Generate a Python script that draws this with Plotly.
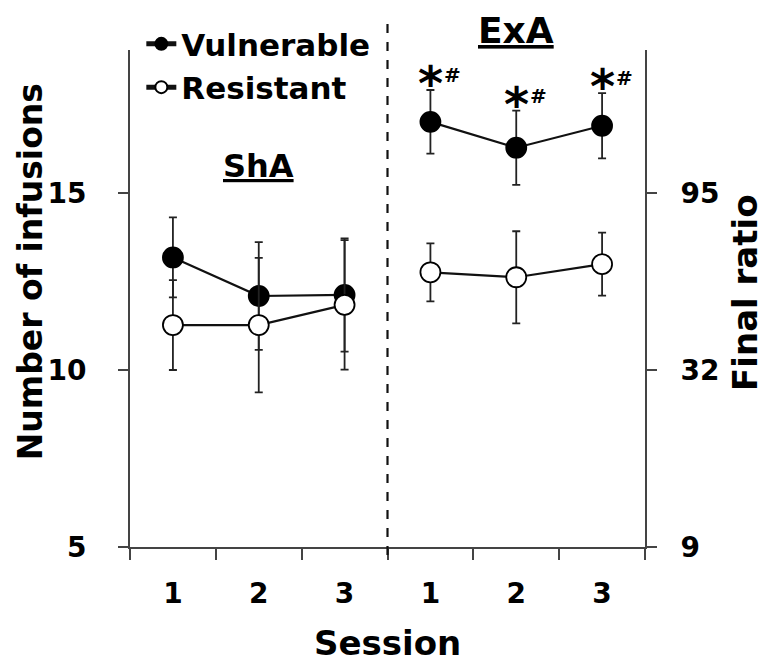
import plotly.graph_objects as go

# ---- data ----
session_labels = ["1", "2", "3"]
phases = ["ShA", "ExA"]

vul_sha = [13.18, 12.09, 12.12]
vul_sha_err = [1.13, 1.52, 1.60]
res_sha = [11.27, 11.27, 11.84]
res_sha_err = [1.27, 1.90, 1.83]

vul_exa = [17.01, 16.28, 16.90]
vul_exa_err = [0.90, 1.05, 0.92]
res_exa = [12.76, 12.62, 12.99]
res_exa_err = [0.82, 1.30, 0.89]

left_ticks = [5, 10, 15]
right_ticktext = ["9", "32", "95"]
sig_label_star = "*"
sig_label_hash = "#"

FONT = "DejaVu Sans"
n = len(session_labels)
x_sha = list(range(1, n + 1))
x_exa = list(range(n + 1, 2 * n + 1))
all_labels = session_labels + session_labels

fig = go.Figure()

def add(xs, ys, errs, filled, name, show):
    fig.add_trace(go.Scatter(
        x=xs, y=ys, mode="lines+markers", name=name, legendgroup=name,
        showlegend=show,
        line=dict(color="#111111", width=2.2),
        marker=dict(size=20, color="#000000" if filled else "#ffffff",
                    line=dict(color="#000000", width=1.8), symbol="circle"),
        error_y=dict(type="data", array=errs, visible=True, color="#222222",
                     thickness=1.8, width=4),
    ))

add(x_sha, vul_sha, vul_sha_err, True, "Vulnerable", True)
add(x_exa, vul_exa, vul_exa_err, True, "Vulnerable", False)
add(x_sha, res_sha, res_sha_err, False, "Resistant", True)
add(x_exa, res_exa, res_exa_err, False, "Resistant", False)

# significance marks above vulnerable ExA points
for xi, v, e in zip(x_exa, vul_exa, vul_exa_err):
    fig.add_annotation(x=xi, y=v + e, text="<b>" + sig_label_star + "</b>", showarrow=False,
                       font=dict(family=FONT, size=48, color="#000"),
                       yanchor="middle", yshift=7)
    fig.add_annotation(x=xi, y=v + e, text="<b>" + sig_label_hash + "</b>", showarrow=False,
                       font=dict(family=FONT, size=20, color="#000"),
                       yanchor="middle", xshift=22, yshift=15)

# divider between phases
fig.add_shape(type="line", xref="x", yref="paper",
              x0=n + 0.5, x1=n + 0.5, y0=-0.016, y1=1.06,
              line=dict(color="#111111", width=2.2, dash="dash"))

# phase labels
fig.add_annotation(x=(x_sha[0] + x_sha[-1]) / 2, xref="x", y=0.767, yref="paper",
                   text="<b><u>" + phases[0] + "</u></b>", showarrow=False,
                   yanchor="middle", xanchor="center",
                   font=dict(family=FONT, size=32, color="#000"))
fig.add_annotation(x=(x_exa[0] + x_exa[-1]) / 2, xref="x", y=1.04, yref="paper",
                   text="<b><u>" + phases[1] + "</u></b>", showarrow=False,
                   yanchor="middle", xanchor="center",
                   font=dict(family=FONT, size=36, color="#000"))

# axis titles
fig.add_annotation(x=-0.194, y=0.553, xref="paper", yref="paper",
                   text="<b>Number of infusions</b>", textangle=-90, showarrow=False,
                   xanchor="center", yanchor="middle",
                   font=dict(family=FONT, size=33, color="#000"))
fig.add_annotation(x=1.194, y=0.513, xref="paper", yref="paper",
                   text="<b>Final ratio</b>", textangle=-90, showarrow=False,
                   xanchor="center", yanchor="middle",
                   font=dict(family=FONT, size=34, color="#000"))
fig.add_annotation(x=0.5, y=-0.193, xref="paper", yref="paper",
                   text="<b>Session</b>", showarrow=False,
                   xanchor="center", yanchor="middle",
                   font=dict(family=FONT, size=34, color="#000"))

axis_col = "#444444"
fig.update_layout(
    width=759, height=657,
    margin=dict(l=122, r=122, t=42, b=118, autoexpand=False),
    plot_bgcolor="white", paper_bgcolor="white",
    font=dict(family=FONT, color="#000"),
    showlegend=True,
    legend=dict(x=0.022, y=1.066, xanchor="left", yanchor="top",
                bgcolor="rgba(0,0,0,0)",
                font=dict(family=FONT, size=31, color="#000", weight="bold"),
                itemsizing="constant", tracegroupgap=0),
    xaxis=dict(range=[0.5, 2 * n + 0.5], tickvals=x_sha + x_exa, ticktext=all_labels,
               ticks="", showline=True, linecolor=axis_col, linewidth=2,
               showgrid=False, zeroline=False,
               tickfont=dict(family=FONT, size=28, color="#000", weight="bold"),
               minor=dict(tick0=0.5, dtick=1, ticks="outside", ticklen=11,
                          tickwidth=2, tickcolor=axis_col, showgrid=False),
               ticklabelstandoff=20),
    yaxis=dict(range=[5, 19.04], tickvals=left_ticks, ticks="outside", ticklen=10,
               tickwidth=2, tickcolor=axis_col, showline=True, linecolor=axis_col,
               linewidth=2, showgrid=False, zeroline=False,
               tickfont=dict(family=FONT, size=28, color="#000", weight="bold"),
               ticklabelstandoff=26),
    yaxis2=dict(range=[5, 19.04], overlaying="y", side="right", tickvals=left_ticks,
                ticktext=right_ticktext, ticks="outside", ticklen=10, tickwidth=2,
                tickcolor=axis_col, showline=True, linecolor=axis_col, linewidth=2,
                showgrid=False, zeroline=False,
                tickfont=dict(family=FONT, size=28, color="#000", weight="bold"),
                ticklabelstandoff=18),
)
# invisible trace to activate the right axis
fig.add_trace(go.Scatter(x=[x_sha[0]], y=[left_ticks[0]], yaxis="y2", mode="markers",
                         marker=dict(opacity=0), showlegend=False, hoverinfo="skip"))

fig.write_html("out.html")
